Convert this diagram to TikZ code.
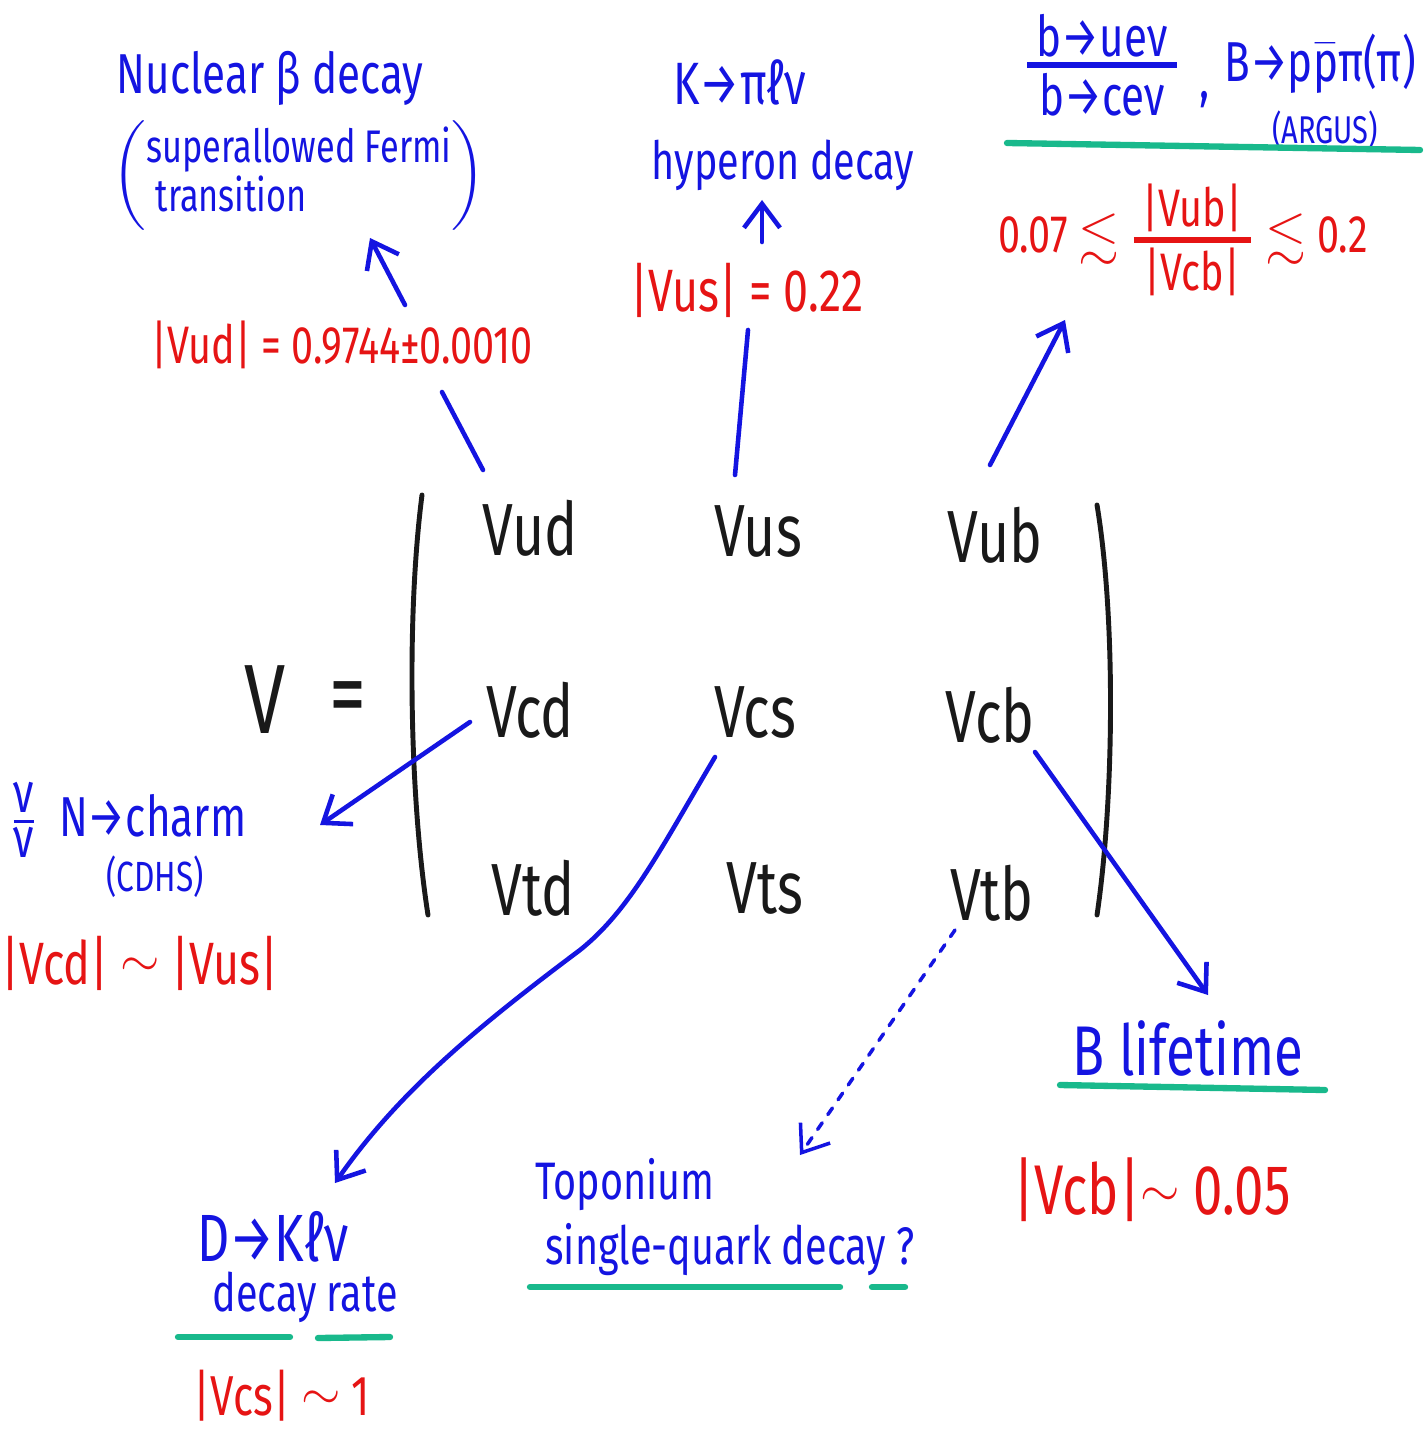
\documentclass[tikz,border=0pt]{standalone}
\usepackage{fontspec}
\usepackage{amssymb}
\setmainfont{Fira Sans}[FakeStretch=0.75]
\usetikzlibrary{arrows.meta}

\definecolor{penblue}{RGB}{20,20,225}
\definecolor{penred}{RGB}{230,20,20}
\definecolor{pengreen}{RGB}{25,185,140}
\definecolor{penblack}{RGB}{25,25,25}
\newcommand{\pensize}[1]{\fontsize{#1}{#1}\selectfont}
\newcommand{\twiddle}{\raisebox{0.12em}{\fontsize{14}{14}\selectfont$\sim$}}

\tikzset{
  note/.style={inner sep=0pt, text=penblue},
  value/.style={inner sep=0pt, text=penred},
  mentry/.style={inner sep=0pt, text=penblack, font=\pensize{21}},
  link/.style={draw=penblue, line width=1.3pt, line cap=round},
  pointer/.style={link, -{Straight Barb[length=2.4mm,width=3.6mm]}},
  dotpointer/.style={pointer, line width=1pt, dash pattern=on 0.08cm off 0.1cm},
  greenline/.style={draw=pengreen, line width=1.8pt, line cap=round},
  bracket/.style={draw=penblack, line width=1.4pt, line cap=round}
}

\begin{document}
\begin{tikzpicture}[x=0.01cm, y=-0.01cm]
  \fill[white] (0,0) rectangle (1424,1431);

  % the matrix
  \node[inner sep=0pt, text=penblack, font=\pensize{28}] (bigv) at (265,700) {V};
  \node[inner sep=0pt, text=penblack, font=\pensize{28}] (eq) at (348,705) {=};
  \node[mentry] (vud) at (530,528) {Vud};
  \node[mentry] (vus) at (758,532) {Vus};
  \node[mentry] (vub) at (995,535) {Vub};
  \node[mentry] (vcd) at (530,710) {Vcd};
  \node[mentry] (vcs) at (755,712) {Vcs};
  \node[mentry] (vcb) at (990,715) {Vcb};
  \node[mentry] (vtd) at (533,888) {Vtd};
  \node[mentry] (vts) at (765,888) {Vts};
  \node[mentry] (vtb) at (992,893) {Vtb};
  \draw[bracket] (422,495) .. controls (406,620) and (410,800) .. (428,915);
  \draw[bracket] (1097,505) .. controls (1116,620) and (1114,800) .. (1097,915);

  % top left: V_ud
  \node[note, font=\pensize{16}] (nuclear) at (270,78) {Nuclear β decay};
  \node[note, font=\pensize{13}] (fermi) at (299,176)
    {$\left(\begin{tabular}{@{}l@{}}superallowed Fermi\\ \ transition\end{tabular}\right)$};
  \node[value, font=\pensize{15}] (vudval) at (342,345) {|Vud| = 0.9744±0.0010};

  % top middle: V_us
  \node[note, font=\pensize{17}] (kpilnu) at (740,82) {K→πℓν};
  \node[note, font=\pensize{15}] (hyperon) at (783,165) {hyperon decay};
  \node[value, font=\pensize{17}] (vusval) at (747,290) {|Vus| = 0.22};

  % top right: V_ub
  \node[note, font=\pensize{16}] (bfrac) at (1102,65)
    {${\mbox{\,b→ueν\,}\above 1.5pt\mbox{\,b→ceν\,}}$};
  \node[note, font=\pensize{16}] (comma) at (1205,100) {,};
  \node[note, font=\pensize{16}] (bppp) at (1320,64) {B→p$\bar{\mbox{p}}$π(π)};
  \node[note, font=\pensize{11}] (argus) at (1325,130) {(ARGUS)};
  \draw[greenline] (1007,143) -- (1420,150);
  \node[value, font=\pensize{15}] (ratio) at (1183,240)
    {0.07 $\lesssim$ ${\mbox{\,|Vub|\,}\above 1.5pt\mbox{\,|Vcb|\,}}$ $\lesssim$ 0.2};

  % left: V_cd
  \node[note, font=\pensize{16}] (nucharm) at (128,820)
    {${\mbox{ν}\above 1pt\mbox{ν}}$\, N→charm};
  \node[note, font=\pensize{12}] (cdhs) at (155,877) {(CDHS)};
  \node[value, font=\pensize{17}] (vcdval) at (140,963) {|Vcd| \twiddle{} |Vus|};

  % bottom left: V_cs
  \node[note, font=\pensize{19}] (dkl) at (273,1237) {D→Kℓν};
  \node[note, font=\pensize{15}] (decayrate) at (305,1297) {decay rate};
  \draw[greenline] (178,1337) -- (290,1337);
  \draw[greenline] (318,1338) -- (390,1337);
  \node[value, font=\pensize{16}] (vcsval) at (282,1396) {|Vcs| \twiddle{} 1};

  % bottom middle: V_tb
  \node[note, font=\pensize{15}] (topo) at (625,1185) {Toponium};
  \node[note, font=\pensize{15}] (single) at (730,1250) {single-quark decay ?};
  \draw[greenline] (530,1287) -- (840,1287);
  \draw[greenline] (872,1287) -- (905,1287);

  % bottom right: V_cb
  \node[note, font=\pensize{20}] (blife) at (1188,1048) {B lifetime};
  \draw[greenline] (1060,1085) -- (1325,1090);
  \node[value, font=\pensize{20}] (vcbval) at (1152,1190) {|Vcb|\twiddle{} 0.05};

  % connectors
  \draw[link] ([shift={(-47,-58)}]vud.center) -- ([shift={(100,47)}]vudval.center);
  \draw[pointer] ([shift={(63,-40)}]vudval.center) -- ([shift={(71,62)}]fermi.center);
  \draw[link] ([shift={(-23,-57)}]vus.center) -- ([shift={(1,40)}]vusval.center);
  \draw[pointer] ([shift={(15,-48)}]vusval.center) -- ([shift={(-21,35)}]hyperon.center);
  \draw[pointer] ([shift={(-5,-70)}]vub.center) -- ([shift={(-118,80)}]ratio.center);
  \draw[pointer] ([shift={(-60,12)}]vcd.center) -- ([shift={(192,5)}]nucharm.center);
  \draw[pointer] ([shift={(-40,45)}]vcs.center) .. controls (660,850) and (630,910) .. (580,950)
    .. controls (480,1025) and (400,1090) .. ([shift={(62,-54)}]dkl.center);
  \draw[pointer] ([shift={(45,37)}]vcb.center) -- ([shift={(20,-53)}]blife.center);
  \draw[dotpointer] ([shift={(-37,37)}]vtb.center) -- ([shift={(175,-30)}]topo.center);
\end{tikzpicture}
\end{document}
